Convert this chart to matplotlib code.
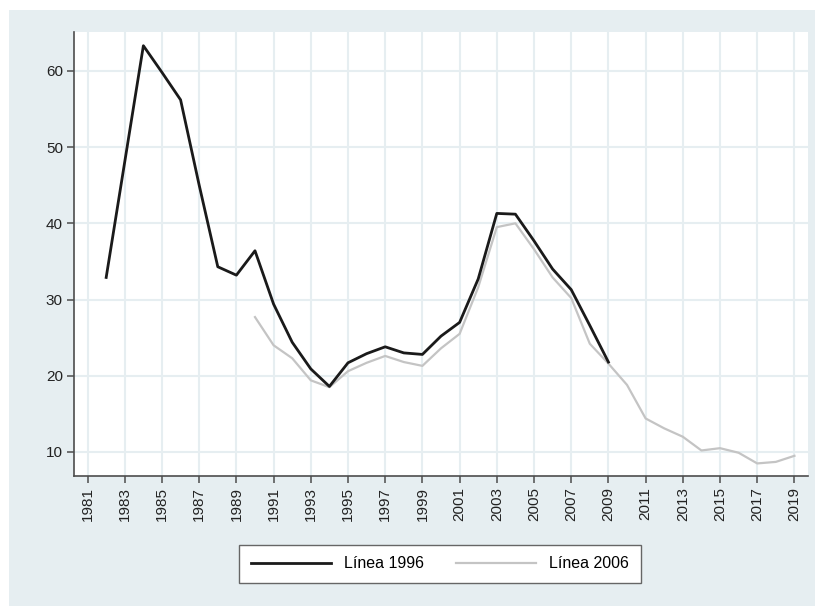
import numpy as np
import matplotlib
matplotlib.use("Agg")
import matplotlib.pyplot as plt
from matplotlib.patches import Rectangle

plt.rcParams['font.family'] = ['Liberation Sans', 'DejaVu Sans']

# Línea 1996 (1982-2009)
years_1996 = list(range(1982, 2010))
linea_1996 = [32.9, 48.1, 63.3, 59.8, 56.2, 45.0, 34.3, 33.2, 36.4, 29.4,
              24.4, 20.9, 18.6, 21.7, 22.9, 23.8, 23.0, 22.8, 25.2, 27.0,
              32.7, 41.3, 41.2, 37.7, 34.0, 31.3, 26.6, 21.8]

# Línea 2006 (1990-2019)
years_2006 = list(range(1990, 2020))
linea_2006 = [27.7, 24.0, 22.3, 19.4, 18.5, 20.6, 21.7, 22.6, 21.8, 21.3,
              23.6, 25.5, 31.6, 39.5, 40.0, 36.6, 32.9, 30.2, 24.2, 21.6,
              18.8, 14.4, 13.1, 12.0, 10.2, 10.5, 9.9, 8.5, 8.7, 9.5]

x_ticks = list(range(1981, 2020, 2))
y_ticks = [10, 20, 30, 40, 50, 60]

bg = "#e6eef1"
grid_col = "#e6eef1"
axis_col = "#4d4d4d"

fig = plt.figure(figsize=(8.16, 6.06), dpi=100)
fig.patch.set_facecolor("white")
# the light panel behind the graph (Stata style)
fig.patches.append(Rectangle((9 / 816, 0), 806 / 816, 1 - 10 / 606,
                             transform=fig.transFigure, facecolor=bg,
                             edgecolor="none", zorder=-5))

ax = fig.add_axes([74 / 816, 1 - 476 / 606, 734 / 816, 444 / 606])
ax.set_facecolor("white")

l1, = ax.plot(years_1996, linea_1996, color="#1a1a1a", lw=2.0,
              label="Línea 1996", zorder=3)
l2, = ax.plot(years_2006, linea_2006, color="#c4c4c4", lw=1.6,
              label="Línea 2006", zorder=2)

ax.set_xlim(1980.27, 2019.73)
ax.set_ylim(6.85, 65.1)
ax.set_xticks(x_ticks)
ax.set_xticklabels([str(y) for y in x_ticks], rotation=90)
ax.set_yticks(y_ticks)

ax.grid(True, color=grid_col, lw=1.5, zorder=0)
ax.set_axisbelow(True)

for s in ["top", "right"]:
    ax.spines[s].set_visible(False)
for s in ["left", "bottom"]:
    ax.spines[s].set_color(axis_col)
    ax.spines[s].set_linewidth(1.2)

ax.tick_params(axis="both", colors=axis_col, length=5, width=1.1,
               labelsize=11, labelcolor="#222222", pad=3)

leg = fig.legend(handles=[l1, l2], loc="center", ncol=2,
                 bbox_to_anchor=(440 / 816, 1 - 564 / 606),
                 fontsize=11.5, frameon=True, fancybox=False, framealpha=1,
                 handlelength=5.0, handletextpad=0.8, columnspacing=2.0,
                 borderpad=0.75, borderaxespad=0)
leg.get_frame().set_edgecolor("#666666")
leg.get_frame().set_linewidth(1.0)

fig.savefig("out.png", dpi=100)
